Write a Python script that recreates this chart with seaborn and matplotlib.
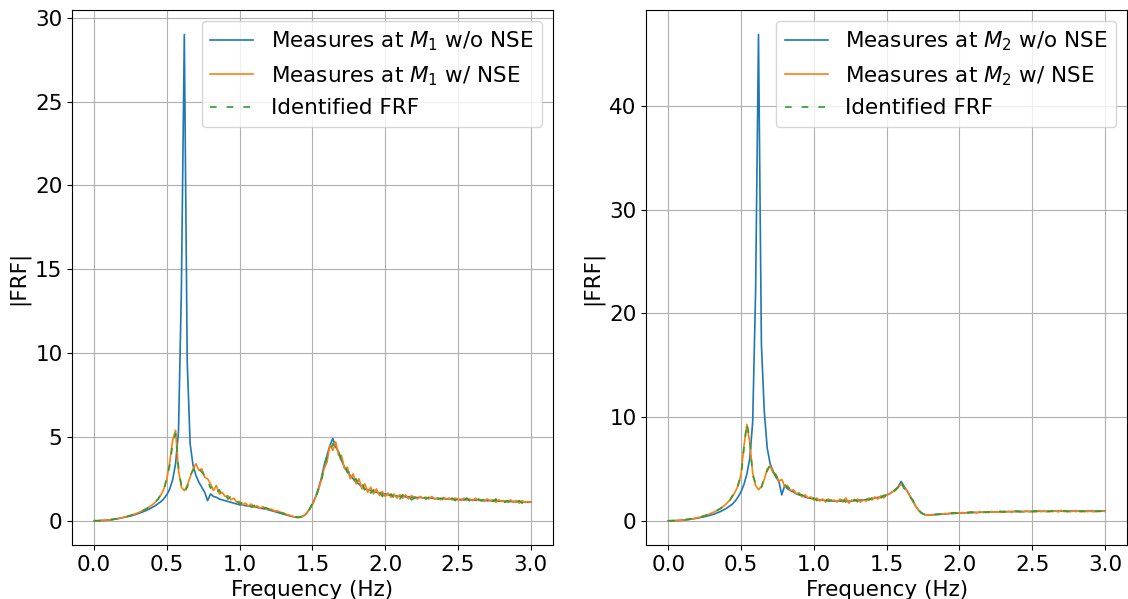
import numpy as np
import matplotlib
matplotlib.use("Agg")
import matplotlib.pyplot as plt
import seaborn as sns

# frequency grid of the measurements (Hz)
freq = np.round(np.arange(0, 151) * 0.02, 2)

# |FRF| at M1 (left panel), one row per 0.2 Hz
m1_wo_nse = [
    0.00, 0.00, 0.01, 0.02, 0.03, 0.05, 0.07, 0.09, 0.12, 0.15,
    0.19, 0.23, 0.27, 0.31, 0.36, 0.42, 0.48, 0.55, 0.62, 0.70,
    0.80, 0.90, 1.02, 1.15, 1.32, 1.55, 1.90, 2.45, 3.40, 5.30,
    13.8, 29.0, 9.5, 4.6, 3.3, 2.7, 2.3, 2.0, 1.7, 1.2,
    1.6, 1.45, 1.4, 1.3, 1.25, 1.2, 1.15, 1.1, 1.05, 1.0,
    0.95, 0.95, 0.9, 0.88, 0.85, 0.82, 0.8, 0.75, 0.72, 0.7,
    0.65, 0.6, 0.55, 0.5, 0.45, 0.4, 0.35, 0.3, 0.26, 0.22,
    0.2, 0.22, 0.3, 0.45, 0.7, 1.0, 1.4, 1.9, 2.5, 3.3,
    3.9, 4.5, 4.9, 4.4, 4.1, 3.6, 3.2, 2.9, 2.7, 2.5,
    2.3, 2.2, 2.0, 1.9, 1.85, 1.8, 1.75, 1.7, 1.65, 1.6,
    1.6, 1.55, 1.5, 1.52, 1.48, 1.45, 1.47, 1.42, 1.44, 1.4,
    1.42, 1.38, 1.4, 1.36, 1.38, 1.34, 1.36, 1.32, 1.34, 1.3,
    1.33, 1.29, 1.31, 1.27, 1.3, 1.26, 1.28, 1.24, 1.27, 1.23,
    1.26, 1.22, 1.24, 1.2, 1.23, 1.19, 1.21, 1.18, 1.2, 1.16,
    1.19, 1.15, 1.17, 1.14, 1.16, 1.12, 1.15, 1.11, 1.13, 1.1,
    1.12,
]
m1_w_nse = [
    0.00, 0.00, 0.01, 0.02, 0.03, 0.05, 0.07, 0.10, 0.13, 0.16,
    0.20, 0.24, 0.29, 0.34, 0.40, 0.47, 0.55, 0.63, 0.72, 0.83,
    0.95, 1.10, 1.30, 1.55, 1.90, 2.50, 3.50, 4.80, 5.40, 3.00,
    2.0, 1.8, 2.1, 2.6, 3.1, 3.4, 3.0, 3.1, 2.6, 2.5,
    2.2, 1.8, 2.1, 1.6, 1.7, 1.45, 1.5, 1.25, 1.35, 1.1,
    1.15, 0.95, 1.05, 0.88, 1.0, 0.8, 0.9, 0.75, 0.85, 0.7,
    0.66, 0.7, 0.58, 0.6, 0.5, 0.48, 0.38, 0.34, 0.27, 0.23,
    0.2, 0.22, 0.3, 0.45, 0.68, 0.95, 1.35, 1.8, 2.4, 3.1,
    3.5, 4.5, 4.2, 4.7, 3.9, 3.9, 3.1, 3.2, 2.5, 2.8,
    2.2, 2.5, 1.9, 2.2, 1.7, 2.0, 1.6, 1.9, 1.5, 1.75,
    1.45, 1.65, 1.4, 1.6, 1.35, 1.55, 1.35, 1.55, 1.3, 1.5,
    1.4, 1.3, 1.45, 1.35, 1.4, 1.3, 1.45, 1.3, 1.35, 1.25,
    1.4, 1.3, 1.35, 1.25, 1.35, 1.3, 1.2, 1.35, 1.25, 1.3,
    1.2, 1.35, 1.2, 1.25, 1.15, 1.3, 1.2, 1.25, 1.1, 1.25,
    1.15, 1.2, 1.1, 1.25, 1.1, 1.2, 1.05, 1.2, 1.1, 1.15,
    1.1,
]
m1_identified = [
    0.00, 0.00, 0.01, 0.02, 0.03, 0.05, 0.07, 0.10, 0.13, 0.16,
    0.20, 0.24, 0.29, 0.34, 0.40, 0.47, 0.55, 0.63, 0.72, 0.83,
    0.95, 1.12, 1.28, 1.6, 1.85, 2.6, 3.3, 4.6, 5.2, 3.2,
    2.1, 1.7, 2.0, 2.7, 3.0, 3.3, 3.1, 2.9, 2.7, 2.4,
    1.95, 2.1, 1.7, 1.85, 1.45, 1.6, 1.3, 1.45, 1.2, 1.25,
    1.0, 1.1, 0.9, 1.0, 0.82, 0.92, 0.78, 0.84, 0.72, 0.78,
    0.7, 0.62, 0.6, 0.52, 0.48, 0.42, 0.36, 0.3, 0.26, 0.22,
    0.2, 0.23, 0.31, 0.46, 0.7, 1.0, 1.3, 1.85, 2.3, 3.2,
    3.8, 4.1, 4.6, 4.2, 4.1, 3.5, 3.4, 2.9, 2.9, 2.4,
    2.5, 2.1, 2.3, 1.8, 2.0, 1.65, 1.85, 1.55, 1.75, 1.45,
    1.65, 1.4, 1.6, 1.35, 1.55, 1.3, 1.55, 1.35, 1.5, 1.25,
    1.35, 1.4, 1.3, 1.45, 1.3, 1.4, 1.25, 1.4, 1.3, 1.35,
    1.25, 1.4, 1.25, 1.35, 1.2, 1.35, 1.3, 1.2, 1.35, 1.2,
    1.3, 1.15, 1.3, 1.2, 1.3, 1.15, 1.25, 1.15, 1.3, 1.1,
    1.25, 1.1, 1.2, 1.05, 1.2, 1.1, 1.2, 1.05, 1.15, 1.1,
    1.15,
]

# |FRF| at M2 (right panel)
m2_wo_nse = [
    0.00, 0.00, 0.01, 0.02, 0.04, 0.06, 0.09, 0.12, 0.16, 0.20,
    0.25, 0.30, 0.36, 0.43, 0.50, 0.58, 0.67, 0.78, 0.90, 1.05,
    1.2, 1.4, 1.6, 1.9, 2.3, 2.8, 3.5, 4.5, 6.0, 9.5,
    22.0, 46.9, 17.0, 10.5, 7.0, 5.5, 4.8, 4.2, 3.8, 2.5,
    3.4, 3.1, 2.9, 2.8, 2.6, 2.5, 2.4, 2.3, 2.2, 2.15,
    2.1, 2.05, 2.0, 2.0, 1.95, 1.95, 1.9, 1.9, 1.9, 1.9,
    1.9, 1.9, 1.9, 1.9, 1.95, 1.95, 2.0, 2.0, 2.05, 2.1,
    2.15, 2.2, 2.25, 2.3, 2.4, 2.5, 2.6, 2.8, 3.0, 3.3,
    3.8, 3.3, 2.9, 2.4, 1.9, 1.4, 1.0, 0.75, 0.6, 0.55,
    0.55, 0.58, 0.6, 0.62, 0.64, 0.66, 0.68, 0.7, 0.72, 0.73,
    0.75, 0.76, 0.77, 0.78, 0.79, 0.8, 0.81, 0.82, 0.83, 0.84,
    0.84, 0.85, 0.86, 0.86, 0.87, 0.87, 0.88, 0.88, 0.89, 0.89,
    0.9, 0.9, 0.9, 0.91, 0.91, 0.91, 0.92, 0.92, 0.92, 0.92,
    0.92, 0.93, 0.93, 0.93, 0.93, 0.93, 0.93, 0.93, 0.94, 0.94,
    0.94, 0.94, 0.94, 0.94, 0.94, 0.94, 0.94, 0.94, 0.94, 0.94,
    0.94,
]
m2_w_nse = [
    0.00, 0.00, 0.01, 0.02, 0.04, 0.07, 0.10, 0.14, 0.18, 0.23,
    0.29, 0.36, 0.44, 0.53, 0.63, 0.75, 0.88, 1.03, 1.20, 1.40,
    1.65, 1.95, 2.3, 2.8, 3.4, 4.5, 7.2, 9.3, 7.6, 4.6,
    3.4, 3.0, 3.3, 4.0, 5.0, 5.3, 4.6, 4.5, 3.8, 4.0,
    3.3, 3.4, 2.9, 3.0, 2.6, 2.7, 2.3, 2.5, 2.2, 2.3,
    2.0, 2.2, 1.9, 2.1, 1.8, 2.1, 1.9, 2.0, 1.8, 2.1,
    1.8, 2.2, 1.7, 2.0, 1.9, 2.1, 1.8, 2.0, 1.9, 2.2,
    2.0, 2.3, 2.1, 2.4, 2.2, 2.5, 2.6, 2.8, 2.9, 3.3,
    3.5, 3.2, 2.9, 2.4, 1.9, 1.4, 1.0, 0.75, 0.6, 0.55,
    0.55, 0.6, 0.6, 0.65, 0.62, 0.7, 0.68, 0.75, 0.7, 0.78,
    0.75, 0.8, 0.72, 0.85, 0.78, 0.82, 0.76, 0.88, 0.8, 0.85,
    0.78, 0.9, 0.82, 0.88, 0.8, 0.92, 0.84, 0.9, 0.82, 0.95,
    0.86, 0.92, 0.84, 0.96, 0.86, 0.92, 0.85, 0.98, 0.88, 0.94,
    0.86, 0.96, 0.88, 0.95, 0.85, 1.0, 0.88, 0.95, 0.86, 0.96,
    0.88, 0.94, 0.86, 0.96, 0.88, 0.93, 0.86, 0.95, 0.88, 0.94,
    0.9,
]
m2_identified = [
    0.00, 0.00, 0.01, 0.02, 0.04, 0.07, 0.10, 0.14, 0.18, 0.23,
    0.29, 0.36, 0.44, 0.53, 0.63, 0.75, 0.88, 1.03, 1.20, 1.40,
    1.7, 1.9, 2.4, 2.7, 3.5, 4.3, 7.0, 9.4, 7.8, 4.4,
    3.6, 3.1, 3.2, 4.2, 4.8, 5.4, 4.8, 4.3, 4.0, 3.7,
    3.5, 3.2, 3.1, 2.8, 2.8, 2.5, 2.5, 2.3, 2.35, 2.1,
    2.2, 1.95, 2.1, 1.85, 2.05, 1.9, 2.0, 1.85, 2.05, 1.9,
    2.0, 1.8, 2.1, 1.8, 2.05, 1.85, 2.1, 1.9, 2.1, 2.0,
    2.2, 2.1, 2.35, 2.2, 2.45, 2.4, 2.7, 2.7, 3.0, 3.2,
    3.9, 3.1, 3.0, 2.3, 2.0, 1.35, 1.05, 0.72, 0.62, 0.55,
    0.57, 0.58, 0.63, 0.62, 0.68, 0.66, 0.73, 0.7, 0.78, 0.73,
    0.8, 0.74, 0.83, 0.76, 0.86, 0.78, 0.84, 0.8, 0.86, 0.8,
    0.88, 0.8, 0.9, 0.82, 0.92, 0.83, 0.93, 0.84, 0.92, 0.86,
    0.94, 0.85, 0.95, 0.86, 0.93, 0.87, 0.96, 0.86, 0.95, 0.88,
    0.94, 0.87, 0.97, 0.86, 0.95, 0.88, 0.98, 0.87, 0.95, 0.88,
    0.95, 0.87, 0.94, 0.88, 0.96, 0.87, 0.94, 0.88, 0.95, 0.9,
    0.92,
]

panels = [
    ("1", m1_wo_nse, m1_w_nse, m1_identified),
    ("2", m2_wo_nse, m2_w_nse, m2_identified),
]

plt.rcParams["font.size"] = 15.5
plt.rcParams["font.family"] = ["DejaVu Sans"]

fig, axes = plt.subplots(1, 2, figsize=(11.28, 5.99), dpi=100)
fig.subplots_adjust(left=0.064, right=0.999, top=0.983, bottom=0.090, wspace=0.195)

for ax, (idx, wo, w, ident) in zip(axes, panels):
    sns.lineplot(x=freq, y=wo, ax=ax, color="tab:blue", linewidth=1.2,
                 label=rf"Measures at $M_{idx}$ w/o NSE")
    sns.lineplot(x=freq, y=w, ax=ax, color="tab:orange", linewidth=1.2,
                 label=rf"Measures at $M_{idx}$ w/ NSE")
    sns.lineplot(x=freq, y=ident, ax=ax, color="tab:green", linewidth=1.2,
                 linestyle=(0, (4, 6)), label="Identified FRF")
    ax.set_xlabel("Frequency (Hz)")
    ax.set_ylabel("|FRF|")
    ax.set_xticks([0.0, 0.5, 1.0, 1.5, 2.0, 2.5, 3.0])
    ax.grid(True, color="#b0b0b0", linewidth=0.8)
    ax.legend(loc="upper right", fontsize=15.5)

axes[0].set_yticks([0, 5, 10, 15, 20, 25, 30])
axes[1].set_yticks([0, 10, 20, 30, 40])

fig.savefig("out.png", dpi=100)
